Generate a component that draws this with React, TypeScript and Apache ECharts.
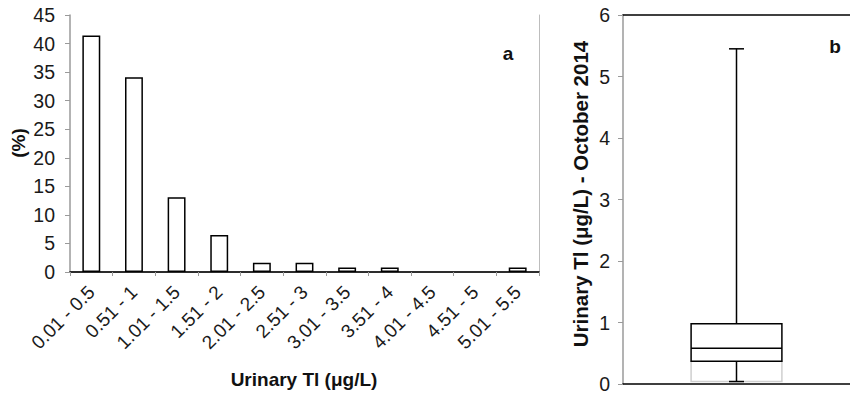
import React, { useEffect, useRef } from "react";
import * as echarts from "echarts";

const categories = [
  "0.01 - 0.5", "0.51 - 1", "1.01 - 1.5", "1.51 - 2", "2.01 - 2.5", "2.51 - 3",
  "3.01 - 3.5", "3.51 - 4", "4.01 - 4.5", "4.51 - 5", "5.01 - 5.5",
];
const percentages = [41.4, 34.1, 13.1, 6.5, 1.6, 1.6, 0.8, 0.8, 0, 0, 0.8];
// min, Q1, median, Q3, max
const boxStats = [0.04, 0.37, 0.58, 0.98, 5.45];
const boxCategory = [""];

const FONT = "'Liberation Sans', Arial, Helvetica, sans-serif";

export default function App() {
  const ref = useRef<HTMLDivElement>(null);
  useEffect(() => {
    if (!ref.current) return;
    const chart = echarts.init(ref.current, null, { renderer: "svg" });
    const labelStyle = { fontFamily: FONT, fontSize: 19.5, color: "#1a1a1a" };
    chart.setOption({
      animation: false,
      backgroundColor: "#fff",
      grid: [
        { left: 70, top: 15, width: 469, height: 257 },
        { left: 623, top: 15, width: 234, height: 371 },
      ],
      xAxis: [
        {
          type: "category", gridIndex: 0, data: categories, boundaryGap: true,
          axisLine: { lineStyle: { color: "#9a9a9a", width: 1.5 } },
          axisTick: { show: true, length: 4, lineStyle: { color: "#9a9a9a" } },
          axisLabel: { ...labelStyle, fontSize: 19, rotate: 45, margin: 17, interval: 0 },
        },
        {
          type: "category", gridIndex: 0, position: "top", data: categories,
          axisLine: { lineStyle: { color: "#000", width: 1.5 } },
          axisTick: { show: false }, axisLabel: { show: false },
        },
        {
          type: "category", gridIndex: 1, data: boxCategory, boundaryGap: true,
          axisLine: { lineStyle: { color: "#000", width: 1.5 } },
          axisTick: { show: false }, axisLabel: { show: false },
        },
        {
          type: "category", gridIndex: 1, position: "top", data: boxCategory,
          axisLine: { lineStyle: { color: "#000", width: 1.5 } },
          axisTick: { show: false }, axisLabel: { show: false },
        },
      ],
      yAxis: [
        {
          type: "value", gridIndex: 0, min: 0, max: 45, interval: 5,
          axisLine: { show: true, lineStyle: { color: "#9a9a9a", width: 1.5 } },
          axisTick: { show: true, length: 5, lineStyle: { color: "#9a9a9a" } },
          splitLine: { show: false },
          axisLabel: { ...labelStyle, margin: 15 },
        },
        {
          type: "value", gridIndex: 0, position: "right", min: 0, max: 45,
          axisLine: { show: true, lineStyle: { color: "#bdbdbd", width: 1 } },
          axisTick: { show: false }, axisLabel: { show: false }, splitLine: { show: false },
        },
        {
          type: "value", gridIndex: 1, min: 0, max: 6, interval: 1,
          axisLine: { show: true, lineStyle: { color: "#9a9a9a", width: 1.5 } },
          axisTick: { show: true, length: 5, lineStyle: { color: "#9a9a9a" } },
          splitLine: { show: false },
          axisLabel: { ...labelStyle, margin: 13 },
        },
      ],
      series: [
        {
          type: "bar", xAxisIndex: 0, yAxisIndex: 0, barWidth: "42%",
          data: percentages.map((v) =>
            v === 0 ? { value: v, itemStyle: { borderWidth: 0 } } : v
          ),
          itemStyle: { color: "#fff", borderColor: "#000", borderWidth: 1.5 },
        },
        {
          type: "custom", xAxisIndex: 2, yAxisIndex: 2,
          data: [[0, ...boxStats]],
          renderItem: (params: any, api: any) => {
            const idx = api.value(0);
            const mn = api.value(1), q1 = api.value(2), md = api.value(3), q3 = api.value(4), mx = api.value(5);
            const band = api.size([1, 0])[0];
            const w = band * 0.4;
            const pMin = api.coord([idx, mn]);
            const pQ1 = api.coord([idx, q1]);
            const pMd = api.coord([idx, md]);
            const pQ3 = api.coord([idx, q3]);
            const pMax = api.coord([idx, mx]);
            const cx = pMd[0];
            const cap = 7.5;
            const black = { stroke: "#000", lineWidth: 1.5 };
            return {
              type: "group",
              children: [
                { type: "rect", shape: { x: cx - w / 2, y: pQ1[1], width: w, height: pMin[1] - pQ1[1] }, style: { fill: "#fff", stroke: "#cfcfcf", lineWidth: 1.5 } },
                { type: "line", shape: { x1: cx, y1: pQ1[1], x2: cx, y2: pMin[1] }, style: black },
                { type: "line", shape: { x1: cx - cap, y1: pMin[1], x2: cx + cap, y2: pMin[1] }, style: black },
                { type: "line", shape: { x1: cx, y1: pQ3[1], x2: cx, y2: pMax[1] }, style: black },
                { type: "line", shape: { x1: cx - cap, y1: pMax[1], x2: cx + cap, y2: pMax[1] }, style: black },
                { type: "rect", shape: { x: cx - w / 2, y: pQ3[1], width: w, height: pQ1[1] - pQ3[1] }, style: { fill: "#fff", stroke: "#000", lineWidth: 1.5 } },
                { type: "line", shape: { x1: cx - w / 2, y1: pMd[1], x2: cx + w / 2, y2: pMd[1] }, style: black },
              ],
            };
          },
        },
      ],
      graphic: [
        { type: "text", x: 304, y: 379, style: { text: "Urinary Tl (μg/L)", font: `bold 19px ${FONT}`, fill: "#111", align: "center", verticalAlign: "middle" } },
        { type: "text", x: 18, y: 143, rotation: Math.PI / 2, style: { text: "(%)", font: `bold 19px ${FONT}`, fill: "#111", align: "center", verticalAlign: "middle" } },
        { type: "text", x: 580, y: 194, rotation: Math.PI / 2, style: { text: "Urinary Tl (μg/L) - October 2014", font: `bold 20.5px ${FONT}`, fill: "#111", align: "center", verticalAlign: "middle" } },
        { type: "text", x: 508, y: 53, style: { text: "a", font: `bold 19px ${FONT}`, fill: "#111", align: "center", verticalAlign: "middle" } },
        { type: "text", x: 835, y: 46, style: { text: "b", font: `bold 19px ${FONT}`, fill: "#111", align: "center", verticalAlign: "middle" } },
      ],
    });
    return () => chart.dispose();
  }, []);
  return <div ref={ref} style={{ width: 850, height: 394, position: "absolute", left: 0, top: 0 }} />;
}
